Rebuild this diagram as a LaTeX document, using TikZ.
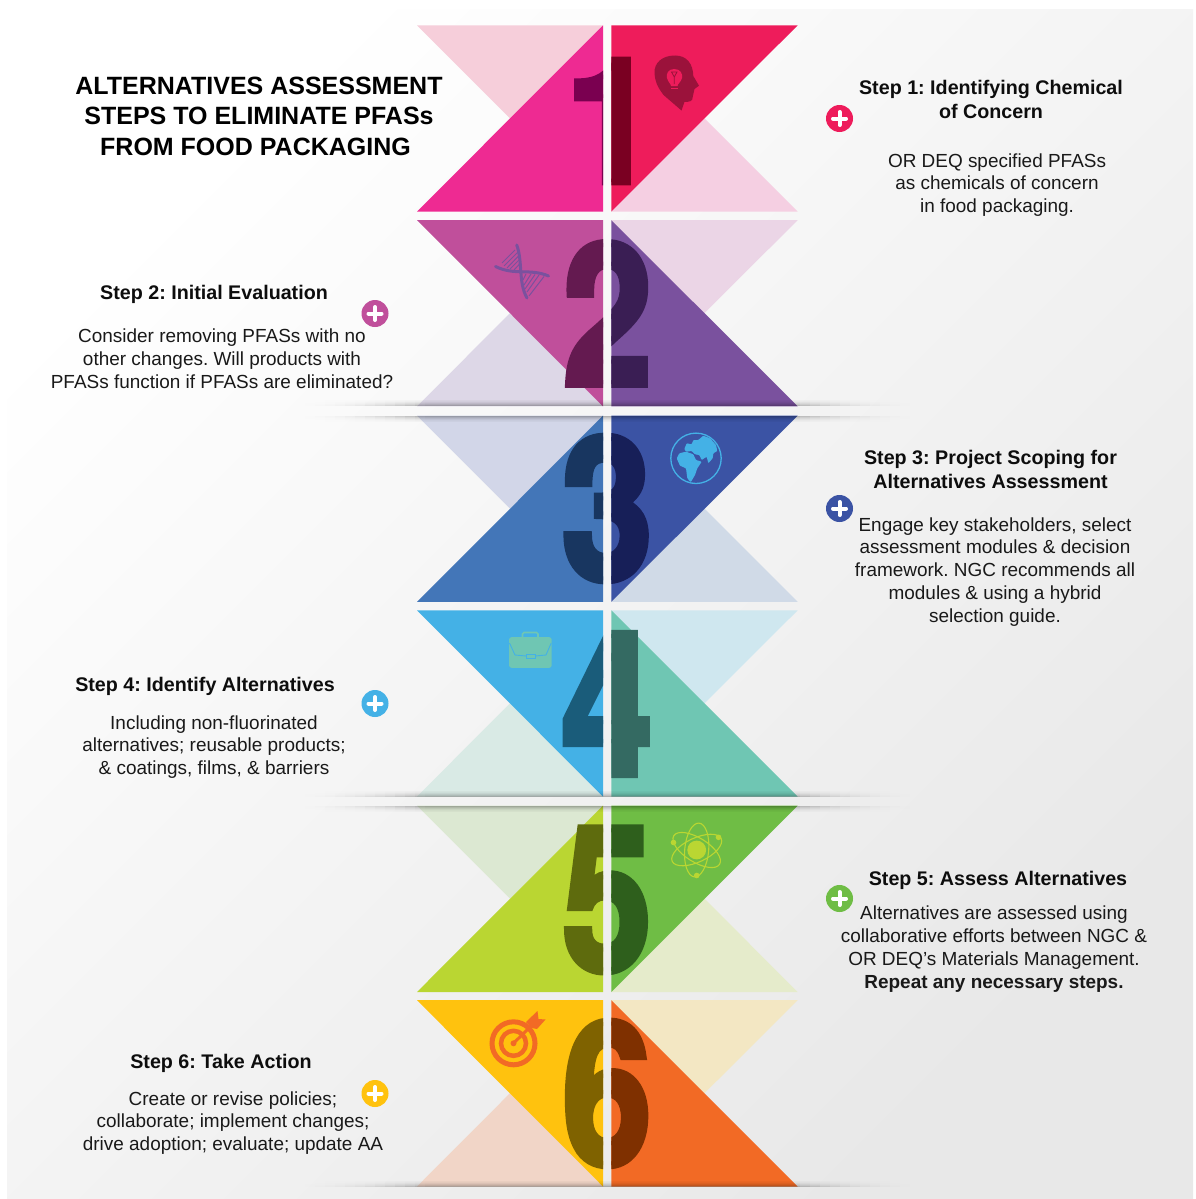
\documentclass[tikz,border=0pt]{standalone}
\usepackage{fontspec}
\usepackage{graphicx}
\setmainfont{Liberation Sans}
\newfontfamily\digitfont[FakeBold=4]{TeX Gyre Heros Bold}
\frenchspacing
\definecolor{bgend}{HTML}{E8E8E8}
\tikzset{
  headtext/.style={font=\fontsize{19.7}{24}\selectfont\bfseries,align=center,inner sep=0pt,text=black!95},
  bodytext/.style={font=\fontsize{18.95}{22.8}\selectfont,align=center,inner sep=0pt,text=black!90},
  titletext/.style={font=\fontsize{25}{30.5}\selectfont\bfseries,align=center,inner sep=0pt,text=black},
  plusdot/.style={circle,minimum size=27pt,inner sep=0pt},
  plusbar/.style={white,line width=4pt,line cap=round},
}
\newcommand{\rowodd}[5]{%
  \fill[#3] (417,#1) -- (603,#1) -- (510,#1+93) -- cycle;
  \fill[#5] (611.3,#1+186.3) -- (797.7,#1+186.3) -- (704.5,#1+93) -- cycle;
  \fill[#2] (417,#1+186.3) -- (603,#1+186.3) -- (603,#1) -- cycle;
  \fill[#4] (611.3,#1) -- (797.7,#1) -- (611.3,#1+186.3) -- cycle;
}
\newcommand{\roweven}[5]{%
  \fill[#3] (417,#1+186.3) -- (603,#1+186.3) -- (510,#1+93) -- cycle;
  \fill[#5] (611.3,#1) -- (797.7,#1) -- (704.5,#1+93) -- cycle;
  \fill[#2] (417,#1) -- (603,#1) -- (603,#1+186.3) -- cycle;
  \fill[#4] (611.3,#1) -- (611.3,#1+186.3) -- (797.7,#1+186.3) -- cycle;
}
% char, cx, cy, w, h, Lcol, Rcol, name
\newcommand{\bigdigit}[8]{%
  \begin{scope}
    \clip (540,#3-90) rectangle (603,#3+90);
    \node[inner sep=0pt,text=#6] (#8L) at (#2,#3) {\resizebox{#4pt}{#5pt}{\digitfont #1}};
  \end{scope}
  \begin{scope}
    \clip (611.3,#3-90) rectangle (680,#3+90);
    \node[inner sep=0pt,text=#7] (#8R) at (#2,#3) {\resizebox{#4pt}{#5pt}{\digitfont #1}};
  \end{scope}
}
\newcommand{\plusbtn}[4]{%
  \node[plusdot,fill=#1] (#4) at (#2,#3) {};
  \draw[plusbar] (#2-6.5,#3) -- (#2+6.5,#3);
  \draw[plusbar] (#2,#3-6.5) -- (#2,#3+6.5);
}
% one shadow strip between y=#1 and y=#2, peak opacity #3, faded at both ends in steps
\newcommand{\shadowstrip}[3]{%
  \fill[black,opacity=#3] (425,#1) rectangle (790,#2);
  \foreach \s in {1,...,13}{
    \pgfmathsetmacro{\fo}{#3*pow(\s/13.5,2.2)}
    \pgfmathsetmacro{\xa}{295+(\s-1)*10}
    \pgfmathsetmacro{\xb}{295+\s*10}
    \pgfmathsetmacro{\xc}{920-\s*10}
    \pgfmathsetmacro{\xd}{920-(\s-1)*10}
    \fill[black,opacity=\fo] (\xa,#1) rectangle (\xb,#2);
    \fill[black,opacity=\fo] (\xc,#1) rectangle (\xd,#2);
  }
}
\newcommand{\shadowabove}[1]{%
  \foreach \d/\o in {0/.28,1/.20,2/.14,3/.09,4/.05,5/.03}{
    \shadowstrip{#1-\d-1}{#1-\d}{\o}
  }
}
\newcommand{\shadowbelow}[1]{%
  \foreach \d/\o in {0/.28,1/.20,2/.14,3/.09,4/.05,5/.03}{
    \shadowstrip{#1+\d}{#1+\d+1}{\o}
  }
}
\begin{document}
\begin{tikzpicture}[x=1pt,y=-1pt]
\useasboundingbox (0,0) rectangle (1195,1199);
\fill[white] (0,0) rectangle (1195,1199);
\shade[shading=axis,top color=white,bottom color=bgend,shading angle=45] (7,10) rectangle (1193,1198);

% triangles
\definecolor{a1}{HTML}{EE2A92}\definecolor{a2}{HTML}{F6CEDA}\definecolor{a3}{HTML}{EE1C5B}\definecolor{a4}{HTML}{F5CFE2}
\rowodd{25.3}{a1}{a2}{a3}{a4}
\definecolor{b1}{HTML}{C04F9B}\definecolor{b2}{HTML}{DDD7E7}\definecolor{b3}{HTML}{7A519E}\definecolor{b4}{HTML}{EBD5E6}
\roweven{220.1}{b1}{b2}{b3}{b4}
\definecolor{c1}{HTML}{4376B8}\definecolor{c2}{HTML}{D2D6E8}\definecolor{c3}{HTML}{3B53A4}\definecolor{c4}{HTML}{D0DAE7}
\rowodd{415.6}{c1}{c2}{c3}{c4}
\definecolor{d1}{HTML}{44B1E6}\definecolor{d2}{HTML}{D9EAE5}\definecolor{d3}{HTML}{6FC6B3}\definecolor{d4}{HTML}{CFE7EF}
\roweven{610.3}{d1}{d2}{d3}{d4}
\definecolor{e1}{HTML}{BAD632}\definecolor{e2}{HTML}{DCE8D2}\definecolor{e3}{HTML}{6FBD45}\definecolor{e4}{HTML}{E5EBCB}
\rowodd{805.7}{e1}{e2}{e3}{e4}
\definecolor{f1}{HTML}{FFC20E}\definecolor{f2}{HTML}{F1D5C7}\definecolor{f3}{HTML}{F26A25}\definecolor{f4}{HTML}{F3E7C3}
\roweven{1000.2}{f1}{f2}{f3}{f4}

% digits
\definecolor{g1}{HTML}{7A0050}\definecolor{g2}{HTML}{7A0022}
\definecolor{h1}{HTML}{641A50}\definecolor{h2}{HTML}{3A1E54}
\definecolor{i1}{HTML}{183660}\definecolor{i2}{HTML}{171F58}
\definecolor{j1}{HTML}{1A5C7A}\definecolor{j2}{HTML}{346A62}
\definecolor{k1}{HTML}{5E6B0D}\definecolor{k2}{HTML}{2E5F1C}
\definecolor{l1}{HTML}{7F6200}\definecolor{l2}{HTML}{7F3000}
\bigdigit{1}{611.5}{121}{90}{122}{g1}{g2}{dA}
\bigdigit{2}{607.5}{313.5}{88}{141}{h1}{h2}{dB}
\bigdigit{3}{607}{508.5}{90}{142}{i1}{i2}{dC}
\bigdigit{4}{607}{704}{90}{140}{j1}{j2}{dD}
\bigdigit{5}{607}{900}{88}{141}{k1}{k2}{dE}
\bigdigit{6}{607}{1093.5}{88}{142}{l1}{l2}{dF}

% shadows
\shadowabove{406.4}\shadowbelow{415.6}
\shadowabove{796.6}\shadowbelow{805.7}
\shadowabove{1186.5}

% head with bulb
\fill[a3!65!black] (675,55.5) .. controls (662,55.5) and (654,63) .. (654.5,73)
  .. controls (655,84) and (660,90) .. (663.5,95) -- (681.5,110.5) -- (684.5,101.8)
  .. controls (689,102) and (693,101.5) .. (692.7,97) -- (694.5,89) -- (699,85.7)
  -- (693.3,76) .. controls (693,64) and (687,55.5) .. (675,55.5) -- cycle;
\fill[a3] (674.3,69) .. controls (668,69) and (666,74) .. (667,78) .. controls (668,82) and (671,84) .. (671,86) -- (677.5,86) .. controls (677.5,84) and (681,82) .. (682,78) .. controls (683,74) and (680.5,69) .. (674.3,69) -- cycle;
\draw[a3!65!black,line width=.8pt] (671.5,72) -- (677,72) -- (674.3,77) -- cycle (674.3,77) -- (674.3,84);
\fill[a3] (671,87.5) rectangle (677.5,89);

% DNA
\definecolor{dna}{HTML}{7A519E}
\begin{scope}[dna,line width=3pt,line cap=round]
  \draw (516.7,245) .. controls (523,262) and (518,282) .. (527,298);
  \draw (495.5,266.5) .. controls (515,276) and (530,268) .. (548.5,276);
\end{scope}
\begin{scope}[dna,line width=1pt]
  \draw (515,250) -- (502,263) (518,252) -- (504,266) (519.5,255) -- (507,268) (520,259) -- (510,269) (520.5,263) -- (514,270);
  \draw (526,274) -- (523,280) (531,274) -- (524,285) (535,274.5) -- (525,289) (539,275) -- (527,292) (544,276.5) -- (529,296);
\end{scope}

% globe
\draw[d1,line width=1.3pt] (696,458.3) circle[radius=25.2];
\fill[d1,rounded corners=.8pt] (684.3,449) -- (686.7,443.3) -- (691.7,444.3) -- (693.3,440) -- (698.3,440) -- (703.3,435.7) -- (710,438.3) -- (716,445) -- (717.3,451) -- (713.3,453.3) -- (712.7,458.3) -- (708.3,463.3) -- (706.7,456.7) -- (701.7,460) -- (699.3,455) -- (695,454.3) -- (691.7,451) -- (686,451.7) -- cycle;
\fill[d1,rounded corners=.8pt] (676.7,458.3) -- (679.3,453.3) -- (686,451.7) -- (693.3,454.3) -- (696,460) -- (701.7,461.7) -- (697.3,468.3) -- (695,475) -- (690.7,482.3) -- (687.3,478.3) -- (686,468.3) -- (680,465.7) -- cycle;

% briefcase
\draw[d3,line width=1.6pt,rounded corners=1.5pt] (522.5,637) -- (522.5,632.5) -- (538,632.5) -- (538,637);
\fill[d3,rounded corners=2.5pt] (509,637.2) rectangle (551.7,667.8);
\draw[d1,line width=.9pt] (509.5,643) -- (515,655) -- (526,656) (535,656) -- (546,655) -- (551.2,643);
\draw[d1,line width=.9pt] (526,654) rectangle (535,658);

% atom
\definecolor{atm}{HTML}{BAD632}
\fill[atm] (696.7,850) circle[radius=9.4];
\begin{scope}[atm,line width=1.1pt]
  \draw (696.7,850) ellipse[x radius=27,y radius=12,rotate=25];
  \draw (696.7,850) ellipse[x radius=27,y radius=12,rotate=-32];
  \draw (696.7,850) ellipse[x radius=12,y radius=27,rotate=-5];
  \fill (718.5,837.3) circle[radius=2.8];
  \fill (673.5,842.5) circle[radius=2.8];
  \fill (696.7,875.5) circle[radius=2.8];
\end{scope}

% target
\begin{scope}[f3]
  \draw[line width=5pt] (513.5,1043.3) circle[radius=21.5];
  \draw[line width=4.5pt] (513.5,1043.3) circle[radius=12.5];
  \fill (513.5,1043.3) circle[radius=3];
  \draw[line width=3pt,line cap=round] (513.5,1043.3) -- (532,1025);
  \fill (526,1022) -- (532,1028) -- (537,1029) -- (545.5,1019.5) -- (538.5,1019) -- (537.5,1011) -- (528,1020) -- cycle;
\end{scope}

% plus buttons
\plusbtn{a3}{839.5}{118.5}{pA}
\plusbtn{b1}{375}{313.5}{pB}
\plusbtn{c3}{839.5}{508.5}{pC}
\plusbtn{d1}{375}{703.5}{pD}
\plusbtn{e3}{839.5}{898.5}{pE}
\plusbtn{f1}{375}{1093.5}{pF}

% text
\node[titletext] (title) at (259,116) {ALTERNATIVES ASSESSMENT\\STEPS TO ELIMINATE PFASs\\FROM FOOD PACKAGING\hspace*{7pt}};
\node[headtext] (h1) at (991,99) {Step 1: Identifying Chemical\\of Concern};
\node[bodytext] (t1) at (997,185) {OR DEQ specified PFASs\\as chemicals of concern\\in food packaging.};
\node[headtext] (h2) at (214,294) {Step 2: Initial Evaluation};
\node[bodytext] (t2) at (222,359) {Consider removing PFASs with no\\other changes. Will products with\\PFASs function if PFASs are eliminated?};
\node[headtext] (h3) at (990.5,469) {Step 3: Project Scoping for\\Alternatives Assessment};
\node[bodytext] (t3) at (995,571.8) {Engage key stakeholders, select\\assessment modules \& decision\\framework. NGC recommends all\\modules \& using a hybrid\\selection guide.};
\node[headtext] (h4) at (205,686) {Step 4: Identify Alternatives};
\node[bodytext] (t4) at (214,747) {Including non-fluorinated\\alternatives; reusable products;\\\& coatings, films, \& barriers};
\node[headtext] (h5) at (998,880.5) {Step 5: Assess Alternatives};
\node[bodytext] (t5) at (994,949.2) {Alternatives are assessed using\\collaborative efforts between NGC \&\\OR DEQ's Materials Management.\\\textbf{Repeat any necessary steps.}};
\node[headtext] (h6) at (221,1063) {Step 6: Take Action};
\node[bodytext] (t6) at (233,1123) {Create or revise policies;\\collaborate; implement changes;\\drive adoption; evaluate; update AA};
\end{tikzpicture}
\end{document}
